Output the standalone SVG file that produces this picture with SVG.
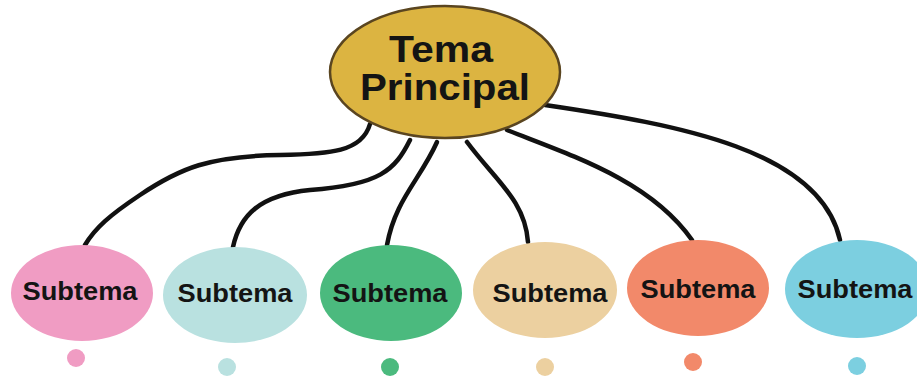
<svg xmlns="http://www.w3.org/2000/svg" width="917" height="379" viewBox="0 0 917 379">
<style>
.c{fill:none;stroke:#111;stroke-width:4.5;stroke-linecap:round}
.t{font-family:"Liberation Sans",Arial,sans-serif;font-weight:bold;fill:#141414;text-anchor:middle}
.main{font-size:36px}
.sub{font-size:26px}
</style>
<rect width="917" height="379" fill="#fff"/>
<g id="connectors">
<path class="c" d="M370,124 C362,152 330,154 280,155 C210,156 180,168 140,195 C110,215 95,228 85,245"/>
<path class="c" d="M410,140 C395,170 380,185 310,190 C260,195 240,215 233,247"/>
<path class="c" d="M437,142 C420,180 395,200 387,245"/>
<path class="c" d="M467,142 C495,180 525,200 528,242"/>
<path class="c" d="M507,130 C570,155 650,180 692,240"/>
<path class="c" d="M545,105 C680,125 820,150 840,240"/>
</g>
<g id="main">
<ellipse cx="445" cy="72" rx="115" ry="66" fill="#dcb441" stroke="#5a4520" stroke-width="2.5"/>
<text class="t main" x="441" y="62" textLength="104" lengthAdjust="spacingAndGlyphs">Tema</text>
<text class="t main" x="445" y="100" textLength="170" lengthAdjust="spacingAndGlyphs">Principal</text>
</g>
<g id="sub1">
<ellipse cx="82" cy="293" rx="71" ry="48" fill="#f09cc3"/>
<text class="t sub" x="80" y="300" textLength="115" lengthAdjust="spacingAndGlyphs">Subtema</text>
<circle cx="76" cy="358" r="9" fill="#f09cc3"/>
</g>
<g id="sub2">
<ellipse cx="235" cy="295" rx="72" ry="48" fill="#b9e1e0"/>
<text class="t sub" x="235" y="302" textLength="115" lengthAdjust="spacingAndGlyphs">Subtema</text>
<circle cx="227" cy="367" r="9" fill="#b9e1e0"/>
</g>
<g id="sub3">
<ellipse cx="391" cy="293" rx="71" ry="48" fill="#4bba7e"/>
<text class="t sub" x="390" y="302" textLength="115" lengthAdjust="spacingAndGlyphs">Subtema</text>
<circle cx="390" cy="367" r="9" fill="#4bba7e"/>
</g>
<g id="sub4">
<ellipse cx="545" cy="290" rx="72" ry="48" fill="#ecd0a0"/>
<text class="t sub" x="550" y="302" textLength="115" lengthAdjust="spacingAndGlyphs">Subtema</text>
<circle cx="545" cy="367" r="9" fill="#ecd0a0"/>
</g>
<g id="sub5">
<ellipse cx="698" cy="288" rx="71" ry="48" fill="#f2896a"/>
<text class="t sub" x="698" y="298" textLength="115" lengthAdjust="spacingAndGlyphs">Subtema</text>
<circle cx="693" cy="362" r="9" fill="#f2896a"/>
</g>
<g id="sub6">
<ellipse cx="857" cy="289" rx="72" ry="49" fill="#7ccfe0"/>
<text class="t sub" x="855" y="298" textLength="115" lengthAdjust="spacingAndGlyphs">Subtema</text>
<circle cx="857" cy="366" r="9" fill="#7ccfe0"/>
</g>
</svg>
